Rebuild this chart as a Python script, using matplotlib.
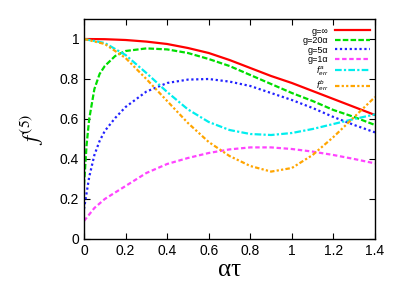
import matplotlib
matplotlib.use("Agg")
import matplotlib.pyplot as plt

plt.rcParams['font.family'] = ['Liberation Sans', 'DejaVu Sans']
plt.rcParams['mathtext.fontset'] = 'custom'
plt.rcParams['mathtext.it'] = 'Liberation Sans:italic'
plt.rcParams['mathtext.rm'] = 'Liberation Sans'

tau_red = [0, 0.1, 0.2, 0.3, 0.4, 0.5, 0.6, 0.7, 0.8, 0.9, 1.0, 1.1, 1.2, 1.3, 1.4]
f_red = [1.0, 0.999, 0.995, 0.987, 0.975, 0.955, 0.93, 0.895, 0.855, 0.815, 0.78, 0.74, 0.70, 0.66, 0.62]

tau_green = [0, 0.0125, 0.025, 0.05, 0.075, 0.1, 0.15, 0.2, 0.3, 0.4, 0.5, 0.6, 0.7, 0.8, 0.9, 1.0, 1.1, 1.2, 1.3, 1.4]
f_green = [0.27, 0.47, 0.60, 0.75, 0.825, 0.865, 0.915, 0.94, 0.953, 0.948, 0.93, 0.90, 0.865, 0.82, 0.775, 0.73, 0.69, 0.645, 0.61, 0.57]

tau_blue = [0, 0.025, 0.05, 0.075, 0.1, 0.15, 0.2, 0.3, 0.4, 0.5, 0.6, 0.7, 0.8, 0.9, 1.0, 1.1, 1.2, 1.3, 1.4]
f_blue = [0.15, 0.31, 0.42, 0.49, 0.54, 0.605, 0.66, 0.737, 0.78, 0.797, 0.80, 0.787, 0.765, 0.73, 0.695, 0.655, 0.61, 0.57, 0.533]

tau_mag = [0, 0.05, 0.1, 0.2, 0.3, 0.4, 0.5, 0.6, 0.7, 0.8, 0.9, 1.0, 1.1, 1.2, 1.3, 1.4]
f_mag = [0.09, 0.155, 0.20, 0.265, 0.33, 0.375, 0.405, 0.43, 0.448, 0.458, 0.458, 0.45, 0.437, 0.42, 0.40, 0.378]

tau_cyan = [0, 0.1, 0.2, 0.3, 0.4, 0.5, 0.6, 0.7, 0.8, 0.9, 1.0, 1.1, 1.2, 1.3, 1.4]
f_cyan = [1.0, 0.98, 0.92, 0.83, 0.735, 0.648, 0.585, 0.545, 0.525, 0.52, 0.53, 0.55, 0.575, 0.60, 0.623]

tau_orange = [0, 0.1, 0.2, 0.3, 0.4, 0.5, 0.6, 0.7, 0.8, 0.9, 1.0, 1.1, 1.2, 1.3, 1.4]
f_orange = [1.0, 0.975, 0.905, 0.80, 0.69, 0.58, 0.485, 0.415, 0.365, 0.337, 0.355, 0.42, 0.51, 0.61, 0.71]

labels = ['g=∞', 'g=20α', 'g=5α', 'g=1α', r'$f^{a}_{err}$', r'$f^{b}_{err}$']

fig = plt.figure(figsize=(4.15, 2.91), dpi=100)
ax = fig.add_axes([84/415, 1-239/291, (375-84)/415, (239-19)/291])

ax.plot(tau_red, f_red, color='#ff0000', lw=1.6, ls='-', label=labels[0])
ax.plot(tau_green, f_green, color='#00dd00', lw=1.6, ls=(0, (2.5, 1)), label=labels[1])
ax.plot(tau_blue, f_blue, color='#2222ff', lw=1.6, ls=(0, (1, 1.2)), label=labels[2])
ax.plot(tau_mag, f_mag, color='#ff44ff', lw=1.6, ls=(0, (2, 1.2)), label=labels[3])
ax.plot(tau_cyan, f_cyan, color='#00eeee', lw=1.6, ls=(0, (3, 1, 1, 1)), label=labels[4])
ax.plot(tau_orange, f_orange, color='#ffa500', lw=1.6, ls=(0, (2, 1, 1, 1, 1, 1)), label=labels[5])

ax.set_xlim(0, 1.4)
ax.set_ylim(0, 1.1)
ax.set_xticks([0, 0.2, 0.4, 0.6, 0.8, 1, 1.2, 1.4])
ax.set_xticklabels(['0', '0.2', '0.4', '0.6', '0.8', '1', '1.2', '1.4'])
ax.set_yticks([0, 0.2, 0.4, 0.6, 0.8, 1])
ax.set_yticklabels(['0', '0.2', '0.4', '0.6', '0.8', '1'])
ax.tick_params(direction='in', top=True, right=True, length=4, width=0.8, labelsize=10)
for s in ax.spines.values():
    s.set_linewidth(1.0)

ax.set_xlabel('ατ', fontsize=18, family='Liberation Serif', labelpad=1)
yl = ax.set_ylabel(r'$f^{(5)}$', fontsize=16, labelpad=10)
yl.set_math_fontfamily('stix')

leg = ax.legend(loc='upper right', bbox_to_anchor=(1.0, 0.99), frameon=False,
                fontsize=6.5, markerfirst=False, handlelength=3.8, handletextpad=0.8,
                labelspacing=0.05, borderaxespad=0.2)

fig.savefig('out.png', dpi=100)
